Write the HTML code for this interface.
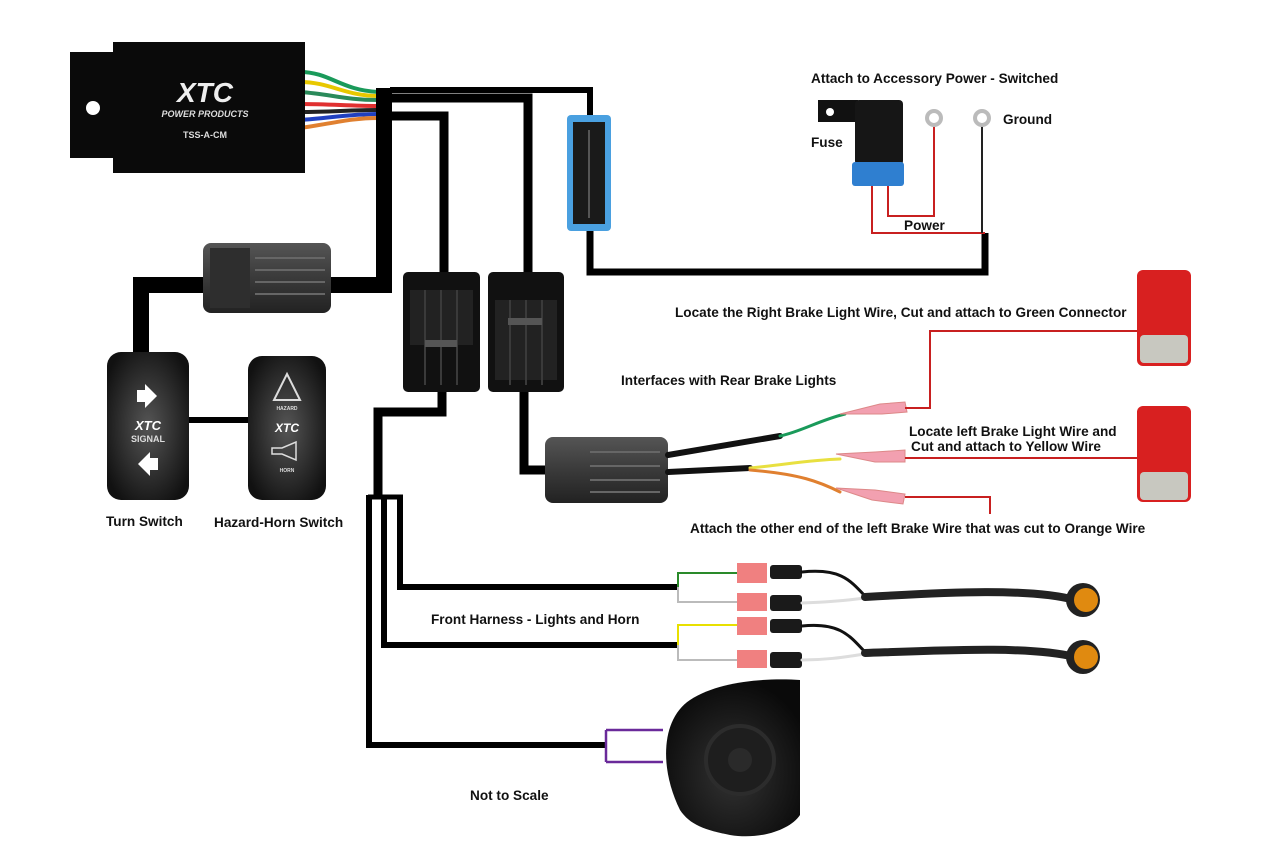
<!DOCTYPE html>
<html><head><meta charset="utf-8"><style>
html,body{margin:0;padding:0;background:#fff;}
svg{display:block;}
text{font-family:"Liberation Sans",Arial,sans-serif;font-weight:bold;font-size:13.6px;fill:#111;}
</style></head><body>
<svg width="1280" height="853" viewBox="0 0 1280 853" xmlns="http://www.w3.org/2000/svg">
<defs>
<linearGradient id="gc" x1="0" y1="0" x2="0" y2="1"><stop offset="0" stop-color="#555"/><stop offset="0.5" stop-color="#3a3a3a"/><stop offset="1" stop-color="#222"/></linearGradient>
<radialGradient id="sw" cx="0.5" cy="0.5" r="0.6"><stop offset="0" stop-color="#555"/><stop offset="1" stop-color="#111"/></radialGradient>
<radialGradient id="hn" cx="0.5" cy="0.6" r="0.6"><stop offset="0" stop-color="#333"/><stop offset="1" stop-color="#0a0a0a"/></radialGradient>
</defs>

<g fill="none" stroke-width="4">
<path d="M300 72 C330 72 340 90 378 92" stroke="#1a9a5a"/>
<path d="M300 82 C330 82 345 96 378 96" stroke="#e8c800"/>
<path d="M300 92 C330 94 345 100 378 100" stroke="#2a8a5a"/>
<path d="M300 104 C330 104 350 106 378 106" stroke="#e03030"/>
<path d="M300 112 C330 112 350 110 378 110" stroke="#222"/>
<path d="M300 120 C330 118 350 114 378 114" stroke="#2040c0"/>
<path d="M300 128 C330 124 350 118 378 118" stroke="#e08030"/>
</g>

<rect x="70" y="52" width="50" height="106" fill="#0a0a0a"/>
<circle cx="93" cy="108" r="7" fill="#fff"/>
<rect x="113" y="42" width="192" height="131" fill="#0a0a0a"/>
<text x="205" y="102" text-anchor="middle" style="font-size:28px;font-style:italic;fill:#eee;">XTC</text>
<text x="205" y="117" text-anchor="middle" style="font-size:9px;font-style:italic;fill:#ddd;">POWER PRODUCTS</text>
<text x="205" y="138" text-anchor="middle" style="font-size:9px;fill:#ddd;">TSS-A-CM</text>

<g fill="none" stroke="#000" stroke-linejoin="miter">
<path d="M384 88 L384 285 L141 285 L141 358" stroke-width="16"/>
<path d="M390 90 L590 90 L590 120" stroke-width="6"/>
<path d="M590 228 L590 272 L985 272 L985 233" stroke-width="7"/>
<path d="M390 98 L528 98 L528 275" stroke-width="9"/>
<path d="M390 116 L444 116 L444 275" stroke-width="9"/>
<path d="M442 390 L442 412 L378 412 L378 497" stroke-width="9"/>
<path d="M524 390 L524 470 L550 470" stroke-width="9"/>
<path d="M368 497 L403 497" stroke-width="5"/>
<path d="M369 495 L369 745 L606 745" stroke-width="6"/>
<path d="M384 495 L384 645 L678 645" stroke-width="6"/>
<path d="M400 495 L400 587 L678 587" stroke-width="6"/>
<path d="M188 420 L248 420" stroke-width="6"/>
</g>

<rect x="203" y="243" width="128" height="70" rx="8" fill="url(#gc)"/>
<rect x="210" y="248" width="40" height="60" fill="#2e2e2e"/>
<g stroke="#666" stroke-width="2"><line x1="255" y1="258" x2="325" y2="258"/><line x1="255" y1="270" x2="325" y2="270"/><line x1="255" y1="282" x2="325" y2="282"/><line x1="255" y1="294" x2="325" y2="294"/></g>

<rect x="567" y="115" width="44" height="116" rx="4" fill="#4aa0e0"/>
<rect x="573" y="122" width="32" height="102" fill="#1a1a1a"/>
<line x1="589" y1="130" x2="589" y2="218" stroke="#555" stroke-width="2"/>

<g>
<rect x="403" y="272" width="77" height="120" rx="5" fill="#111"/>
<rect x="410" y="290" width="63" height="55" fill="#222"/>
<g stroke="#3a3a3a" stroke-width="2"><line x1="425" y1="290" x2="425" y2="385"/><line x1="441" y1="290" x2="441" y2="385"/><line x1="457" y1="290" x2="457" y2="385"/></g>
<rect x="425" y="340" width="32" height="7" fill="#555"/>
<rect x="488" y="272" width="76" height="120" rx="5" fill="#111"/>
<rect x="495" y="300" width="62" height="80" fill="#222"/>
<g stroke="#3a3a3a" stroke-width="2"><line x1="510" y1="300" x2="510" y2="385"/><line x1="526" y1="300" x2="526" y2="385"/><line x1="542" y1="300" x2="542" y2="385"/></g>
<rect x="508" y="318" width="34" height="7" fill="#555"/>
</g>

<rect x="107" y="352" width="82" height="148" rx="14" fill="url(#sw)"/>
<path d="M137 390 h8 v-6 l12 12 l-12 12 v-6 h-8z" fill="#fff"/>
<text x="148" y="430" text-anchor="middle" style="font-size:13px;font-style:italic;fill:#fff;">XTC</text>
<text x="148" y="442" text-anchor="middle" style="font-size:9px;fill:#ddd;">SIGNAL</text>
<path d="M158 458 h-8 v-6 l-12 12 l12 12 v-6 h8z" fill="#fff"/>
<rect x="248" y="356" width="78" height="144" rx="14" fill="url(#sw)"/>
<path d="M287 374 L300 400 L274 400 Z" fill="none" stroke="#ddd" stroke-width="2"/>
<text x="287" y="410" text-anchor="middle" style="font-size:5px;fill:#ddd;">HAZARD</text>
<text x="287" y="432" text-anchor="middle" style="font-size:12px;font-style:italic;fill:#fff;">XTC</text>
<path d="M272 448 h10 l14 -6 v18 l-14 -6 h-10z" fill="none" stroke="#ddd" stroke-width="1.5"/>
<text x="287" y="472" text-anchor="middle" style="font-size:5px;fill:#ddd;">HORN</text>

<rect x="545" y="437" width="123" height="66" rx="8" fill="url(#gc)"/>
<g stroke="#666" stroke-width="2"><line x1="590" y1="452" x2="660" y2="452"/><line x1="590" y1="466" x2="660" y2="466"/><line x1="590" y1="480" x2="660" y2="480"/><line x1="590" y1="492" x2="660" y2="492"/></g>
<g fill="none" stroke-linecap="round">
<path d="M668 455 L780 436" stroke="#111" stroke-width="6"/>
<path d="M780 436 C800 432 820 420 845 414" stroke="#1a9a5a" stroke-width="3"/>
<path d="M668 472 L750 468" stroke="#111" stroke-width="6"/>
<path d="M750 468 C790 464 810 460 840 459" stroke="#e8e040" stroke-width="3"/>
<path d="M750 470 C800 474 820 482 840 492" stroke="#e08030" stroke-width="3"/>
</g>
<g fill="#f2a0b0" stroke="#d88" stroke-width="1">
<path d="M840 414 L880 404 L905 402 L907 412 L882 414 Z"/>
<path d="M836 454 L875 452 L905 450 L905 462 L875 462 Z"/>
<path d="M836 488 L875 490 L905 494 L903 504 L872 500 Z"/>
</g>
<g fill="none" stroke="#c82020" stroke-width="2">
<path d="M905 408 L930 408 L930 331 L1138 331"/>
<path d="M905 458 L1140 458"/>
<path d="M905 497 L990 497 L990 514"/>
</g>

<g>
<rect x="1137" y="270" width="54" height="96" rx="6" fill="#d82020"/>
<rect x="1140" y="335" width="48" height="28" rx="4" fill="#c8c8c0"/>
<rect x="1137" y="406" width="54" height="96" rx="6" fill="#d82020"/>
<rect x="1140" y="472" width="48" height="28" rx="4" fill="#c8c8c0"/>
</g>

<rect x="818" y="100" width="40" height="22" fill="#111"/>
<circle cx="830" cy="112" r="4" fill="#fff"/>
<rect x="855" y="100" width="48" height="65" rx="4" fill="#161616"/>
<rect x="852" y="162" width="52" height="24" rx="3" fill="#2f7fd0"/>
<g fill="none" stroke="#c82020" stroke-width="2">
<path d="M872 186 L872 233 L985 233"/>
<path d="M888 186 L888 216 L934 216 L934 126"/>
</g>
<path d="M982 126 L982 233" stroke="#222" stroke-width="2"/>
<circle cx="934" cy="118" r="7" fill="none" stroke="#bbb" stroke-width="4"/>
<circle cx="982" cy="118" r="7" fill="none" stroke="#bbb" stroke-width="4"/>

<g fill="none" stroke-width="2">
<path d="M678 587 L678 573 L738 573" stroke="#2a8a2a"/>
<path d="M678 587 L678 602 L738 602" stroke="#bbb"/>
<path d="M678 645 L678 625 L738 625" stroke="#e8e000"/>
<path d="M678 645 L678 660 L738 660" stroke="#bbb"/>
</g>
<g fill="#f08080">
<rect x="737" y="563" width="30" height="20"/><rect x="737" y="593" width="30" height="18"/>
<rect x="737" y="617" width="30" height="18"/><rect x="737" y="650" width="30" height="18"/>
</g>
<g fill="#1a1a1a">
<rect x="770" y="565" width="32" height="14" rx="3"/><rect x="770" y="595" width="32" height="16" rx="3"/>
<rect x="770" y="619" width="32" height="14" rx="3"/><rect x="770" y="652" width="32" height="16" rx="3"/>
</g>
<g fill="none" stroke-linecap="round">
<path d="M802 572 C840 568 850 580 865 596" stroke="#111" stroke-width="3"/>
<path d="M802 603 C830 602 850 600 865 598" stroke="#ddd" stroke-width="3"/>
<path d="M865 597 C950 592 1030 588 1075 600" stroke="#222" stroke-width="8"/>
<path d="M802 626 C840 622 850 636 865 652" stroke="#111" stroke-width="3"/>
<path d="M802 660 C830 660 850 656 865 654" stroke="#ddd" stroke-width="3"/>
<path d="M865 653 C950 650 1030 646 1075 657" stroke="#222" stroke-width="8"/>
</g>
<circle cx="1083" cy="600" r="17" fill="#222"/><circle cx="1086" cy="600" r="12" fill="#e08a10"/>
<circle cx="1083" cy="657" r="17" fill="#222"/><circle cx="1086" cy="657" r="12" fill="#e08a10"/>

<path d="M606 730 L663 730 M606 762 L663 762 M606 730 L606 762" stroke="#6a2a9a" stroke-width="2.5" fill="none"/>
<path d="M680 810 C660 770 660 720 690 700 C720 680 770 678 800 680 L800 815 C790 830 760 840 730 835 C705 830 690 825 680 810 Z" fill="url(#hn)"/>
<circle cx="740" cy="760" r="34" fill="#1e1e1e" stroke="#2c2c2c" stroke-width="4"/>
<circle cx="740" cy="760" r="12" fill="#2a2a2a"/>

<text x="811" y="83">Attach to Accessory Power - Switched</text>
<text x="1003" y="124">Ground</text>
<text x="811" y="147">Fuse</text>
<text x="904" y="230">Power</text>
<text x="675" y="317">Locate the Right Brake Light Wire, Cut and attach to Green Connector</text>
<text x="621" y="385">Interfaces with Rear Brake Lights</text>
<text x="909" y="436">Locate left Brake Light Wire and</text>
<text x="911" y="451">Cut and attach to Yellow Wire</text>
<text x="690" y="533">Attach the other end of the  left Brake Wire that was cut to Orange Wire</text>
<text x="106" y="526">Turn Switch</text>
<text x="214" y="527">Hazard-Horn Switch</text>
<text x="431" y="624">Front Harness - Lights and Horn</text>
<text x="470" y="800">Not to Scale</text>
</svg>
</body></html>
